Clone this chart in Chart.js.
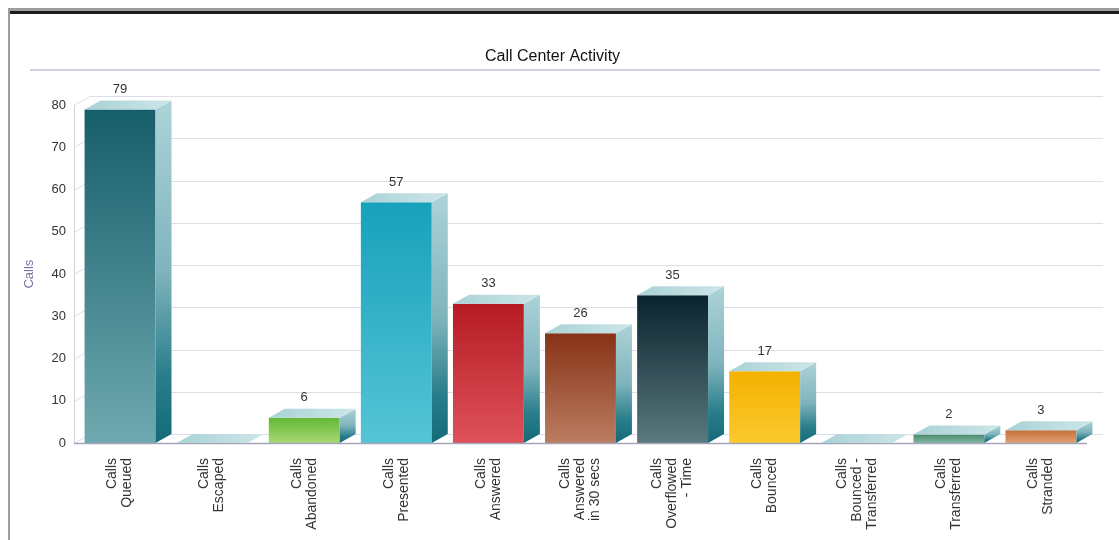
<!DOCTYPE html>
<html>
<head>
<meta charset="utf-8">
<title>Call Center Activity</title>
<script src="https://cdn.jsdelivr.net/npm/chart.js@4.4.1/dist/chart.umd.min.js"></script>
<style>
    html, body { margin: 0; padding: 0; background: #fff; }
    #wrap { position: relative; width: 1119px; height: 540px; overflow: hidden; }
    #frame { position: absolute; left: 8px; top: 8px; right: -10px; bottom: -10px; border-top: 3px solid #9c9c9c; border-left: 2px solid #9c9c9c; }
    #frameInner { position: absolute; left: 10px; top: 11px; right: 0; border-top: 3px solid #1c1c1c; }
    canvas { position: absolute; left: 0; top: 0; }
</style>
</head>
<body>
<div id="wrap">
    <div id="frame"></div>
    <div id="frameInner"></div>
    <canvas id="activityChart" width="1119" height="540"></canvas>
</div>
<script>
// Categorias (rótulos do eixo X, em várias linhas)
const categories = [
    ['Calls', 'Queued'],
    ['Calls', 'Escaped'],
    ['Calls', 'Abandoned'],
    ['Calls', 'Presented'],
    ['Calls', 'Answered'],
    ['Calls', 'Answered', 'in 30 secs'],
    ['Calls', 'Overflowed', '- Time'],
    ['Calls', 'Bounced'],
    ['Calls', 'Bounced -', 'Transferred'],
    ['Calls', 'Transferred'],
    ['Calls', 'Stranded']
];

// Valores das barras
const callCounts = [79, 0, 6, 57, 33, 26, 35, 17, 0, 2, 3];

// Marcas do eixo Y
const yTicks = [0, 10, 20, 30, 40, 50, 60, 70, 80];

// Cores da face frontal: [topo, base]
const frontColors = [
    ['#165e6b', '#6fa9af'],
    ['#9fcdd2', '#c9e4e6'],
    ['#62b835', '#a9d874'],
    ['#17a1bb', '#55c4d6'],
    ['#b51b23', '#de525a'],
    ['#873216', '#bb7d62'],
    ['#0a222c', '#5b797f'],
    ['#f4b100', '#fbc92e'],
    ['#9fcdd2', '#c9e4e6'],
    ['#4b8a70', '#82b79f'],
    ['#c2703a', '#e2a274']
];

const DX = 16;  // profundidade 3D (horizontal)
const DY = 9;   // profundidade 3D (vertical)
const FONT = "'Liberation Sans', Arial, sans-serif";

// Desenha parede do fundo, faces laterais/superiores, valores e rótulos
const box3d = {
    id: 'box3d',
    beforeDatasetsDraw(chart) {
        const { ctx, chartArea: a, scales: { y } } = chart;
        ctx.save();

        // linha abaixo do título
        ctx.strokeStyle = '#cfcfe0';
        ctx.lineWidth = 2;
        ctx.beginPath();
        ctx.moveTo(30, 70);
        ctx.lineTo(1100, 70);
        ctx.stroke();

        ctx.lineWidth = 1;
        yTicks.forEach(v => {
            const py = Math.round(y.getPixelForValue(v)) + 0.5;
            ctx.strokeStyle = '#dedeea';
            ctx.beginPath();
            ctx.moveTo(a.left, py);
            ctx.lineTo(a.left + DX, py - DY);
            ctx.lineTo(a.right + DX, py - DY);
            ctx.stroke();
        });

        // parede esquerda
        ctx.strokeStyle = '#d2d2de';
        ctx.beginPath();
        ctx.moveTo(a.left + 0.5, Math.round(y.getPixelForValue(80)));
        ctx.lineTo(a.left + 0.5, a.bottom);
        ctx.stroke();
        ctx.restore();
    },
    afterDatasetsDraw(chart) {
        const { ctx, chartArea: a, scales: { x } } = chart;
        const meta = chart.getDatasetMeta(0);
        ctx.save();

        // linha do chão (frente)
        ctx.strokeStyle = '#a4a4ba';
        ctx.lineWidth = 1.5;
        ctx.beginPath();
        ctx.moveTo(a.left, a.bottom + 0.5);
        ctx.lineTo(a.right, a.bottom + 0.5);
        ctx.stroke();

        meta.data.forEach((bar, i) => {
            const { x: bx, y: by, base, width } = bar.getProps(['x', 'y', 'base', 'width'], true);
            const l = bx - width / 2;
            const r = bx + width / 2;

            // face lateral
            if (base - by > 0.5) {
                const g = ctx.createLinearGradient(0, by - DY, 0, base);
                g.addColorStop(0, '#add3d8');
                g.addColorStop(0.5, '#7fb4bc');
                g.addColorStop(0.8, '#2a7e8b');
                g.addColorStop(1, '#146a78');
                ctx.fillStyle = g;
                ctx.beginPath();
                ctx.moveTo(r, by);
                ctx.lineTo(r + DX, by - DY);
                ctx.lineTo(r + DX, base - DY);
                ctx.lineTo(r, base);
                ctx.closePath();
                ctx.fill();
            }

            // face superior
            const gt = ctx.createLinearGradient(l, 0, r + DX, 0);
            gt.addColorStop(0, '#a9d2d6');
            gt.addColorStop(1, '#cde6e8');
            ctx.fillStyle = gt;
            ctx.beginPath();
            ctx.moveTo(l, by);
            ctx.lineTo(l + DX, by - DY);
            ctx.lineTo(r + DX, by - DY);
            ctx.lineTo(r, by);
            ctx.closePath();
            ctx.fill();

            // valor acima da barra
            if (callCounts[i] > 0) {
                ctx.fillStyle = '#333';
                ctx.font = '13px ' + FONT;
                ctx.textAlign = 'center';
                ctx.textBaseline = 'middle';
                ctx.fillText(String(callCounts[i]), bx, by - DY - 11);
            }
        });

        // rótulos do eixo X (rotacionados, centrados no tick)
        const lh = 15;
        ctx.fillStyle = '#333';
        ctx.font = '14px ' + FONT;
        ctx.textAlign = 'right';
        ctx.textBaseline = 'middle';
        categories.forEach((lines, i) => {
            const px = x.getPixelForTick(i);
            lines.forEach((txt, j) => {
                const cx = px - (lines.length - 1) * lh / 2 + j * lh;
                ctx.save();
                ctx.translate(cx, a.bottom + 15);
                ctx.rotate(-Math.PI / 2);
                ctx.fillText(txt, 0, 0);
                ctx.restore();
            });
        });
        ctx.restore();
    }
};

document.addEventListener('DOMContentLoaded', () => {
    const ctx = document.getElementById('activityChart').getContext('2d');

    new Chart(ctx, {
        type: 'bar',
        data: {
            labels: categories,
            datasets: [{
                label: 'Calls',
                data: callCounts,
                backgroundColor: (c) => {
                    const chart = c.chart;
                    const y = chart.scales.y;
                    const cols = frontColors[c.dataIndex] || frontColors[0];
                    if (!chart.chartArea || !y) return cols[0];
                    const top = y.getPixelForValue(c.raw || 0);
                    const bottom = y.getPixelForValue(0);
                    if (bottom - top < 1) return cols[0];
                    const g = chart.ctx.createLinearGradient(0, top, 0, bottom);
                    g.addColorStop(0, cols[0]);
                    g.addColorStop(1, cols[1]);
                    return g;
                },
                borderWidth: 0,
                categoryPercentage: 1,
                barPercentage: 0.77
            }]
        },
        options: {
            responsive: false,
            animation: false,
            layout: {
                padding: { left: 18, right: 32, top: 0, bottom: 0 }
            },
            plugins: {
                legend: { display: false },
                tooltip: { enabled: false },
                title: {
                    display: true,
                    text: 'Call Center Activity',
                    color: '#111',
                    font: { size: 16, family: FONT, weight: 'normal' },
                    padding: { top: 47, bottom: 39 }
                }
            },
            scales: {
                x: {
                    grid: { display: false, drawTicks: false },
                    border: { display: false },
                    ticks: { display: false },
                    afterFit: (scale) => { scale.height = 97; }
                },
                y: {
                    min: 0,
                    max: 80,
                    grid: { display: false, drawTicks: false },
                    border: { display: false },
                    afterBuildTicks: (scale) => {
                        scale.ticks = yTicks.map(v => ({ value: v }));
                    },
                    ticks: {
                        color: '#333',
                        padding: 8,
                        font: { size: 13, family: FONT }
                    },
                    title: {
                        display: true,
                        text: 'Calls',
                        color: '#7474a0',
                        font: { size: 13, family: FONT },
                        padding: { top: 4, bottom: 4 }
                    },
                    afterFit: (scale) => { scale.width = 56; }
                }
            }
        },
        plugins: [box3d]
    });
});
</script>
</body>
</html>
